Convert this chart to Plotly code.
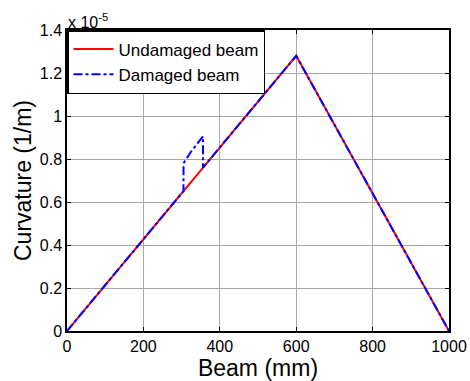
import plotly.graph_objects as go

# Data (curvature in units of 1e-5 1/m)
x_undamaged = [0, 600, 1000]
y_undamaged = [0, 1.28, 0]

x_damaged = [0, 305, 305, 325, 356, 356, 600, 1000]
y_damaged = [0, 0.651, 0.78, 0.835, 0.905, 0.76, 1.28, 0]

x_ticks = [0, 200, 400, 600, 800, 1000]
y_ticks = [0, 0.2, 0.4, 0.6, 0.8, 1.0, 1.2, 1.4]
y_ticktext = ["0", "0.2", "0.4", "0.6", "0.8", "1", "1.2", "1.4"]

font_family = "Liberation Sans, Arial, sans-serif"

fig = go.Figure()
fig.add_trace(go.Scatter(x=x_undamaged, y=y_undamaged, mode="lines",
                         name="Undamaged beam",
                         line=dict(color="#ff0000", width=2)))
fig.add_trace(go.Scatter(x=x_damaged, y=y_damaged, mode="lines",
                         name="Damaged beam",
                         line=dict(color="#0000ff", width=2, dash="dashdot")))

axis_common = dict(showline=True, linecolor="black", linewidth=1.5, mirror="allticks",
                   ticks="inside", ticklen=4, tickcolor="black",
                   showgrid=True, gridcolor="#a8a8a8", gridwidth=1,
                   zeroline=False, automargin=False,
                   tickfont=dict(size=16, color="black", family=font_family))

fig.update_xaxes(range=[0, 1000], tickvals=x_ticks,
                 title=dict(text="Beam (mm)", font=dict(size=23, color="black", family=font_family), standoff=0),
                 **axis_common)
fig.update_yaxes(range=[0, 1.4], tickvals=y_ticks, ticktext=y_ticktext,
                 title=dict(text="Curvature (1/m)", font=dict(size=23, color="black", family=font_family), standoff=2),
                 **axis_common)

fig.add_annotation(x=0, y=1.0, xref="paper", yref="paper", xanchor="left", yanchor="bottom",
                   text="x 10<sup>-5</sup>", showarrow=False, xshift=-1, yshift=-3,
                   font=dict(size=16, color="black", family=font_family))

fig.update_layout(
    width=470, height=381,
    margin=dict(l=67, r=21, t=30, b=50),
    paper_bgcolor="white", plot_bgcolor="white",
    showlegend=True,
    legend=dict(x=0, y=1, xanchor="left", yanchor="top",
                bgcolor="white", bordercolor="black", borderwidth=1.5,
                font=dict(size=17, color="black", family=font_family),
                tracegroupgap=0, itemwidth=40),
)

fig.write_html("out.html")
